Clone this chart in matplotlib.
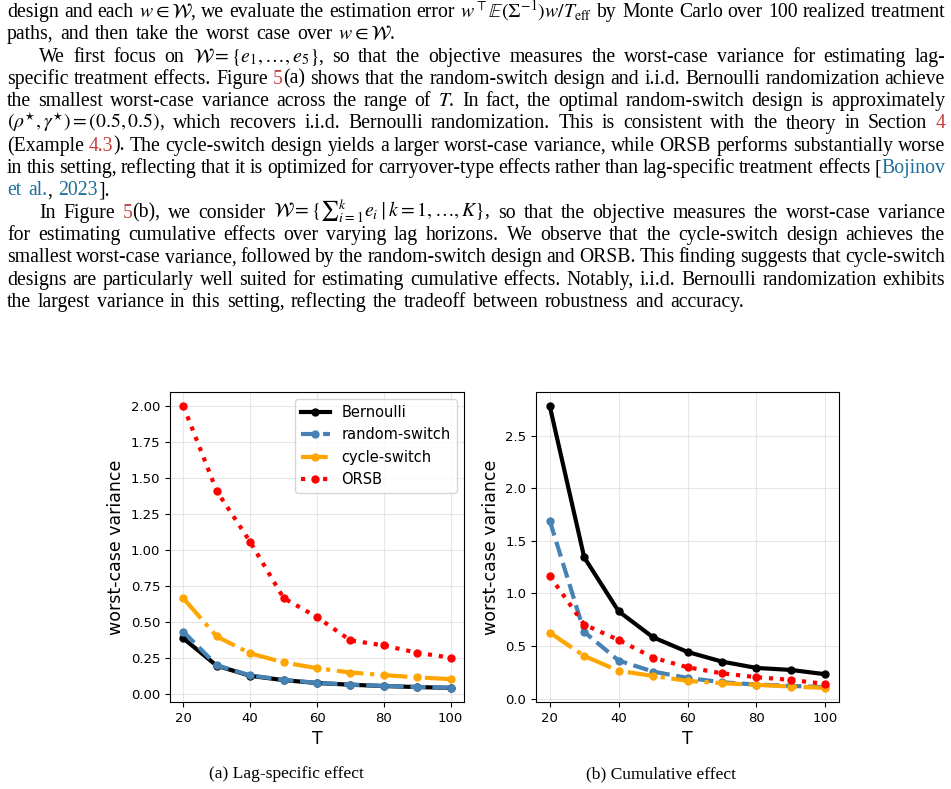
import re
import matplotlib
matplotlib.use("Agg")
import matplotlib.pyplot as plt

# -------------------------------
# DATA
# -------------------------------
T = [20, 30, 40, 50, 60, 70, 80, 90, 100]

# (a) lag-specific effect
lag_bernoulli = [0.387, 0.197, 0.127, 0.097, 0.077, 0.065, 0.056, 0.049, 0.043]
lag_random = [0.433, 0.200, 0.130, 0.099, 0.078, 0.066, 0.057, 0.050, 0.044]
lag_cycle = [0.665, 0.400, 0.283, 0.220, 0.180, 0.150, 0.132, 0.116, 0.104]
lag_orsb = [2.000, 1.410, 1.057, 0.667, 0.535, 0.373, 0.338, 0.287, 0.253]

# (b) cumulative effect
cum_bernoulli = [2.780, 1.342, 0.829, 0.582, 0.443, 0.351, 0.291, 0.272, 0.231]
cum_random = [1.690, 0.633, 0.361, 0.256, 0.196, 0.155, 0.133, 0.120, 0.108]
cum_cycle = [0.627, 0.405, 0.263, 0.215, 0.168, 0.146, 0.130, 0.114, 0.101]
cum_orsb = [1.165, 0.703, 0.557, 0.389, 0.297, 0.240, 0.203, 0.177, 0.139]

series_names = ["Bernoulli", "random-switch", "cycle-switch", "ORSB"]
xticks = [20, 40, 60, 80, 100]
captions = ["(a) Lag-specific effect", "(b) Cumulative effect"]

# body text, one entry per printed line: (text, indented, justified)
# <r>..</r> = red cross-ref, <b>..</b> = blue citation
body_lines = [
    (r"design and each $w\in\mathcal{W}$, we evaluate the estimation error $w^{\top}\mathbb{E}(\Sigma^{-1})w/T_{\mathrm{eff}}$ by Monte Carlo over 100 realized treatment", False, True),
    (r"paths, and then take the worst case over $w\in\mathcal{W}$.", False, False),
    (r"We first focus on $\mathcal{W}=\{e_1,\ldots,e_5\}$, so that the objective measures the worst-case variance for estimating lag-", True, True),
    (r"specific treatment effects. Figure <r>5</r>(a) shows that the random-switch design and i.i.d. Bernoulli randomization achieve", False, True),
    (r"the smallest worst-case variance across the range of $T$. In fact, the optimal random-switch design is approximately", False, True),
    (r"$(\rho^{\star},\gamma^{\star})=(0.5,0.5)$, which recovers i.i.d. Bernoulli randomization. This is consistent with the theory in Section <r>4</r>", False, True),
    (r"(Example <r>4.3</r>). The cycle-switch design yields a larger worst-case variance, while ORSB performs substantially worse", False, True),
    (r"in this setting, reflecting that it is optimized for carryover-type effects rather than lag-specific treatment effects [<b>Bojinov</b>", False, True),
    (r"<b>et</b> <b>al.</b>, <b>2023</b>].", False, False),
    (r"In Figure <r>5</r>(b), we consider $\mathcal{W}=\{∑_{i=1}^{k}e_i\mid{k}=1,\ldots,K\}$, so that the objective measures the worst-case variance", True, True),
    (r"for estimating cumulative effects over varying lag horizons. We observe that the cycle-switch design achieves the", False, True),
    (r"smallest worst-case variance, followed by the random-switch design and ORSB. This finding suggests that cycle-switch", False, True),
    (r"designs are particularly well suited for estimating cumulative effects. Notably, i.i.d. Bernoulli randomization exhibits", False, True),
    (r"the largest variance in this setting, reflecting the tradeoff between robustness and accuracy.", False, False),
]

# -------------------------------
# LAYOUT
# -------------------------------
W_PX, H_PX = 951, 789
DPI = 100
FS = 14.2
FS_PX = FS * DPI / 72
TEXT_LEFT, TEXT_RIGHT = 7, 945
INDENT = 32
BASE0, LEAD = 17, 22.3
LINK = {"r": "#c4403c", "b": "#1f6f9c"}
SERIF = "Liberation Serif"

plt.rcParams["mathtext.fontset"] = "stix"

fig = plt.figure(figsize=(W_PX / DPI, H_PX / DPI), dpi=DPI)
renderer = fig.canvas.get_renderer()


def split_segments(word):
    parts = []
    pos = 0
    for m in re.finditer(r"<([rb])>(.*?)</\1>", word):
        if m.start() > pos:
            parts.append((word[pos:m.start()], "black"))
        parts.append((m.group(2), LINK[m.group(1)]))
        pos = m.end()
    if pos < len(word):
        parts.append((word[pos:], "black"))
    return parts


# -------------------------------
# BODY TEXT (justified word by word)
# -------------------------------
for i, (line, indented, justified) in enumerate(body_lines):
    y = 1 - (BASE0 + i * LEAD) / H_PX
    words = []
    for w in line.split(" "):
        segs = []
        for s, col in split_segments(w):
            t = fig.text(0, y, s, fontsize=FS, family=SERIF, color=col, va="baseline")
            segs.append((t, t.get_window_extent(renderer).width))
        words.append(segs)
    widths = [sum(wd for _, wd in segs) for segs in words]
    left = TEXT_LEFT + (INDENT if indented else 0)
    if justified and len(words) > 1:
        gap = (TEXT_RIGHT - left - sum(widths)) / (len(words) - 1)
    else:
        gap = 0.33 * FS_PX
    x = left
    for segs, wtot in zip(words, widths):
        xs = x
        for t, wd in segs:
            t.set_x(xs / W_PX)
            xs += wd
        x += wtot + gap

# -------------------------------
# PLOTS
# -------------------------------
styles = [
    dict(color="black", linestyle="-"),
    dict(color="steelblue", linestyle="--"),
    dict(color="orange", linestyle="-."),
    dict(color="red", linestyle=":"),
]

ax_a = fig.add_axes([170 / W_PX, 1 - 702 / H_PX, 294 / W_PX, 310 / H_PX])
ax_b = fig.add_axes([536 / W_PX, 1 - 702 / H_PX, 303 / W_PX, 310 / H_PX])

panels = [
    (ax_a, [lag_bernoulli, lag_random, lag_cycle, lag_orsb]),
    (ax_b, [cum_bernoulli, cum_random, cum_cycle, cum_orsb]),
]

for ax, ys in panels:
    for name, vals, st in zip(series_names, ys, styles):
        ax.plot(T, vals, marker="o", markersize=5, linewidth=3, label=name, **st)
    ax.set_xticks(xticks)
    ax.set_xlabel("T", fontsize=12.5)
    ax.set_ylabel("worst-case variance", fontsize=12.5)
    ax.tick_params(labelsize=9.5)
    ax.grid(True, alpha=0.3)

ax_a.set_yticks([0.0, 0.25, 0.5, 0.75, 1.0, 1.25, 1.5, 1.75, 2.0])
ax_a.legend(loc="upper right", fontsize=10.5)

# captions
fig.text(286 / W_PX, 1 - 778 / H_PX, captions[0], fontsize=12.6, family=SERIF, ha="center", va="baseline")
fig.text(661 / W_PX, 1 - 778 / H_PX, captions[1], fontsize=12.6, family=SERIF, ha="center", va="baseline")

fig.savefig("out.png", dpi=DPI)
